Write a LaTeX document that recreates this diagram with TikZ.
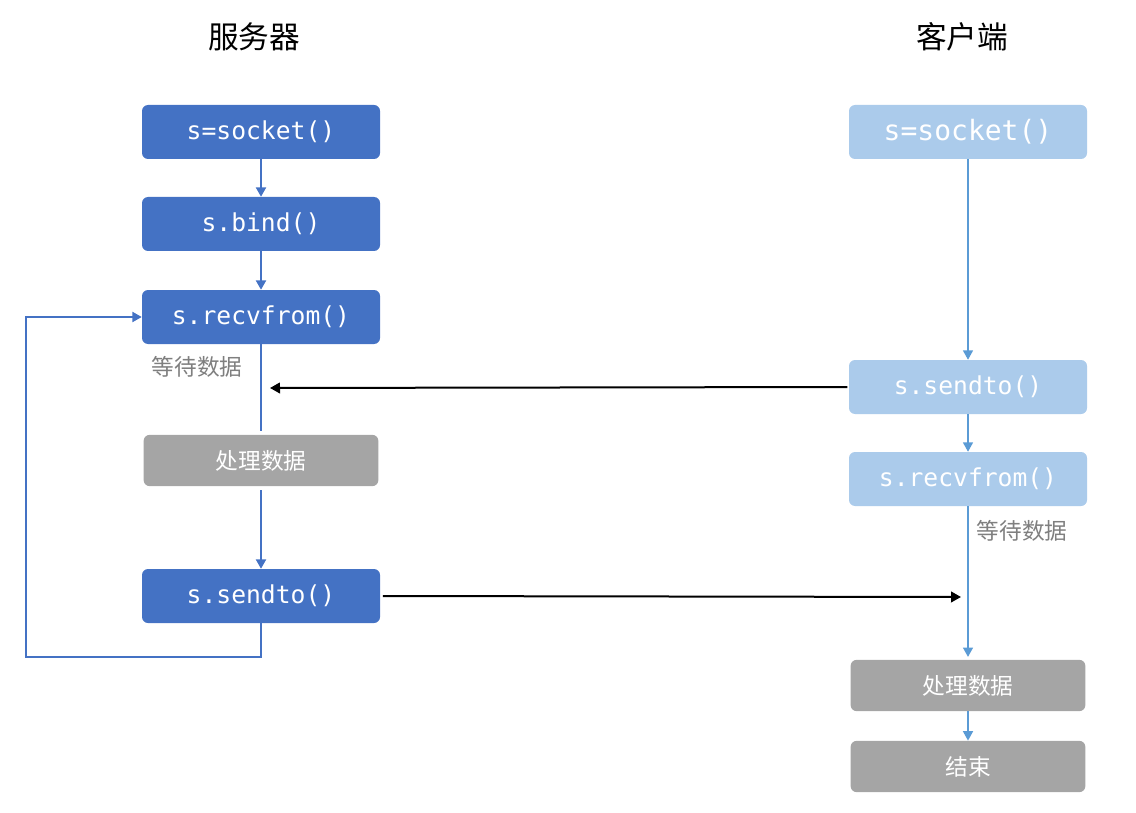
\documentclass[tikz,border=0pt]{standalone}
\usepackage{fontspec}
\setmainfont{Noto Sans CJK SC}
\setmonofont{DejaVu Sans Mono}
\usetikzlibrary{arrows.meta}
\definecolor{sblue}{HTML}{4472C4}
\definecolor{cblue}{HTML}{ABCBEB}
\definecolor{lblue}{HTML}{5B9BD5}
\definecolor{gbox}{HTML}{A5A5A5}
\definecolor{gtext}{HTML}{7F7F7F}
\begin{document}
\begin{tikzpicture}[x=0.75pt,y=-0.75pt,
  box/.style={rounded corners=4.5pt, minimum width=178.5pt, minimum height=40.5pt, text=white, inner sep=0pt},
  sbox/.style={box, fill=sblue, font=\ttfamily\fontsize{18.5}{22}\selectfont},
  cbox/.style={box, fill=cblue, font=\ttfamily\fontsize{18.5}{22}\selectfont},
  gbx/.style={box, fill=gbox, minimum width=176pt, minimum height=38.5pt, font=\fontsize{17}{20}\selectfont},
  title/.style={font=\fontsize{23}{26}\selectfont, text=black},
  wait/.style={font=\fontsize{17}{20}\selectfont, text=gtext},
  sarr/.style={draw=sblue, line width=1.5pt, -{Triangle[length=7pt,width=7.5pt]}},
  sline/.style={draw=sblue, line width=1.5pt},
  carr/.style={draw=lblue, line width=1pt, -{Triangle[length=7pt,width=7.5pt]}},
  barr/.style={draw=black, line width=1.5pt, -{Triangle[length=7.5pt,width=8pt]}}
]
\useasboundingbox (0,0) rectangle (1136,813);

% titles
\node[title] (tserver) at (254,37) {服务器};
\node[title] (tclient) at (962,37) {客户端};

% server column
\node[sbox] (ssock) at (261,132) {s=socket()};
\node[sbox] (sbind) at (261,224) {s.bind()};
\node[sbox] (srecv) at (261,317) {s.recvfrom()};
\node[gbx]  (sproc) at (261,460.5) {处理数据};
\node[sbox] (ssend) at (261,596) {s.sendto()};
\node[wait] (swait) at (197,367) {等待数据};

% client column
\node[cbox, font=\ttfamily\fontsize{21}{24}\selectfont] (csock) at (968,132) {s=socket()};
\node[cbox] (csend) at (968,387) {s.sendto()};
\node[cbox] (crecv) at (968,479) {s.recvfrom()};
\node[gbx]  (cproc) at (968,685.5) {处理数据};
\node[gbx]  (cend)  at (968,766.5) {结束};
\node[wait] (cwait) at (1022,531) {等待数据};

% server connectors
\draw[sarr] (ssock) -- (sbind);
\draw[sarr] (sbind) -- (srecv);
\draw[sline, shorten >=3pt] (srecv) -- (sproc);
\draw[sarr, shorten <=3pt] (sproc) -- (ssend);
\coordinate (loop) at (26,657);
\draw[sarr] (ssend.south) |- (loop) |- (srecv.west);

% client connectors
\draw[carr] (csock) -- (csend);
\draw[carr] (csend) -- (crecv);
\draw[carr, shorten >=2pt] (crecv) -- (cproc);
\draw[carr] (cproc) -- (cend);

% messages
\coordinate (rcvpt) at (270,388);
\coordinate (sndpt) at (961,597);
\draw[barr, shorten <=1pt] (csend.west) -- (rcvpt);
\draw[barr, shorten <=2pt] (ssend.east) -- (sndpt);
\end{tikzpicture}
\end{document}
